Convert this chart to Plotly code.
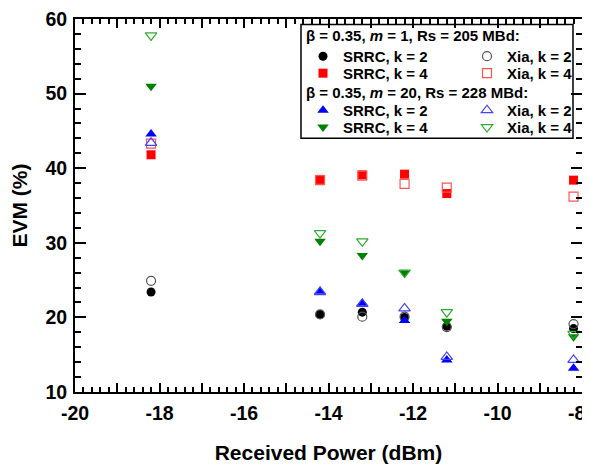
import plotly.graph_objects as go

# ---------------- data ----------------
power = [-18.2, -14.2, -13.2, -12.2, -11.2, -8.2]

srrc_m1_k2 = [23.4, 20.4, 20.7, 20.0, 18.8, 18.5]
xia_m1_k2 = [24.9, 20.4, 20.1, 20.1, 18.7, 19.1]
srrc_m1_k4 = [41.8, 38.5, 39.1, 39.2, 36.6, 38.4]
xia_m1_k4 = [43.3, 38.4, 39.0, 37.9, 37.4, 36.2]

srrc_m20_k2 = [44.6, 23.5, 21.9, 19.6, 14.3, 13.2]
xia_m20_k2 = [43.4, 23.4, 21.8, 21.2, 14.7, 14.3]
srrc_m20_k4 = [51.0, 30.2, 28.3, 26.0, 19.5, 17.4]
xia_m20_k4 = [57.8, 31.3, 30.2, 26.0, 20.7, 17.8]

x_tick_vals = [-20, -19, -18, -17, -16, -15, -14, -13, -12, -11, -10, -9, -8]
x_tick_text = ["-20", "", "-18", "", "-16", "", "-14", "", "-12", "", "-10", "", "-8\u00a0\u00a0"]
y_tick_vals = [10, 20, 30, 40, 50, 60]
y_tick_text = ["10", "20", "30", "40", "50", "60"]

header1 = "β = 0.35, <i>m</i> = 1, Rs = 205 MBd:"
header2 = "β = 0.35, <i>m</i> = 20, Rs = 228 MBd:"

FONT = "Liberation Sans, Arial, Helvetica, sans-serif"

# the page body adds an 8px offset; geometry below is in screen pixels
OFF = 8
W, H = 590 - OFF, 466 - OFF
PLOT_L, PLOT_R, PLOT_T, PLOT_B = 75, 582, 18.5, 392  # screen px
L = PLOT_L - OFF
T = PLOT_T - OFF
R = W - (PLOT_R - OFF)
B = H - (PLOT_B - OFF)
PW, PH = PLOT_R - PLOT_L, PLOT_B - PLOT_T


def px_to_paper_x(px):
    return (px - PLOT_L) / PW


def px_to_paper_y(py):
    return (PLOT_B - py) / PH


series = [
    # name, y, symbol, color, filled, legend column px, row center px
    ("SRRC, k = 2", srrc_m1_k2, "circle", "black", True, 303, 56),
    ("SRRC, k = 4", srrc_m1_k4, "square", "#ff0000", True, 303, 73),
    ("Xia, k = 2", xia_m1_k2, "circle-open", "#555555", False, 467, 56),
    ("Xia, k = 4", xia_m1_k4, "square-open", "#ff5555", False, 467, 73),
    ("SRRC, k = 2", srrc_m20_k2, "triangle-up", "#0000ff", True, 303, 110),
    ("SRRC, k = 4", srrc_m20_k4, "triangle-down", "#008000", True, 303, 127),
    ("Xia, k = 2", xia_m20_k2, "triangle-up-open", "#4444ff", False, 467, 110),
    ("Xia, k = 4", xia_m20_k4, "triangle-down-open", "#33aa33", False, 467, 127),
]

fig = go.Figure()
layout_legends = {}
for i, (name, yv, sym, col, filled, lx, ly) in enumerate(series):
    lname = "legend" if i == 0 else f"legend{i + 1}"
    size = 9 if "circle" in sym or "square" in sym else 10
    fig.add_trace(go.Scatter(
        x=power, y=yv, mode="markers", name=name,
        marker=dict(symbol=sym, size=size, color=col,
                    line=dict(width=1.2 if not filled else 0, color=col)),
        legend=lname, showlegend=True,
    ))
    layout_legends[lname] = dict(
        x=px_to_paper_x(lx), y=px_to_paper_y(ly),
        xanchor="left", yanchor="middle",
        bgcolor="rgba(0,0,0,0)", borderwidth=0,
        font=dict(family=FONT, size=15, color="black", weight="bold"),
        itemclick=False, itemdoubleclick=False,
    )

axis_common = dict(
    showline=True, linecolor="black", linewidth=2, mirror="ticks",
    ticks="inside", tickcolor="black", tickwidth=1.5,
    showgrid=False, zeroline=False, automargin=False,
    ticklabeloverflow="allow",
    tickfont=dict(family=FONT, size=19.5, color="black", weight="bold"),
)

fig.update_layout(
    width=W, height=H,
    margin=dict(l=L, r=R, t=T, b=B),
    paper_bgcolor="white", plot_bgcolor="white",
    showlegend=True,
    xaxis=dict(
        range=[-20, -8], tickmode="array", tickvals=x_tick_vals, ticktext=x_tick_text,
        ticklen=9,
        minor=dict(ticks="inside", ticklen=5, dtick=0.2, tick0=-20, tickcolor="black", tickwidth=1.5),
        title=dict(text="Received Power (dBm)", standoff=22,
                   font=dict(family=FONT, size=21, color="black", weight="bold")),
        ticklabelstandoff=3,
        **axis_common,
    ),
    yaxis=dict(
        range=[10, 60], tickmode="array", tickvals=y_tick_vals, ticktext=y_tick_text,
        ticklen=11,
        minor=dict(ticks="inside", ticklen=6, dtick=2, tick0=10, tickcolor="black", tickwidth=1.5),
        title=dict(text="EVM (%)", standoff=17,
                   font=dict(family=FONT, size=21, color="black", weight="bold")),
        ticklabelstandoff=2,
        **axis_common,
    ),
    shapes=[dict(
        type="rect", xref="paper", yref="paper",
        x0=px_to_paper_x(301), x1=px_to_paper_x(573),
        y0=px_to_paper_y(138), y1=px_to_paper_y(24),
        line=dict(color="black", width=1.5), fillcolor="rgba(255,255,255,0)", layer="above",
    )],
    annotations=[
        dict(text=header1, xref="paper", yref="paper", x=px_to_paper_x(304), y=px_to_paper_y(35),
             xanchor="left", yanchor="middle", showarrow=False,
             font=dict(family=FONT, size=15, color="black", weight="bold")),
        dict(text=header2, xref="paper", yref="paper", x=px_to_paper_x(304), y=px_to_paper_y(92.5),
             xanchor="left", yanchor="middle", showarrow=False,
             font=dict(family=FONT, size=15, color="black", weight="bold")),
    ],
    **layout_legends,
)

fig.write_html("out.html")
